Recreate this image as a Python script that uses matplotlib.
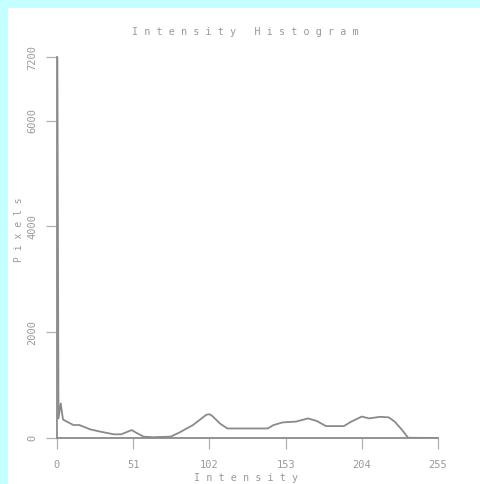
import matplotlib
matplotlib.use("Agg")
import matplotlib.pyplot as plt
from matplotlib.patches import Rectangle

# Histogram outline: intensity level -> pixel count
intensity = [0, 1, 2.5, 4, 6.5, 11, 15, 22, 29, 38, 43, 50, 53, 58, 64, 76,
             82, 91, 100, 102, 104, 109, 114, 141, 145, 151, 160, 168, 174,
             180, 192, 197, 204, 209, 216, 222, 226, 231, 235, 255]
pixels = [9500, 370, 655, 350, 310, 245, 245, 165, 120, 70, 70, 150, 100, 25,
          15, 25, 105, 245, 440, 450, 415, 275, 180, 180, 245, 295, 310, 370,
          320, 225, 225, 310, 405, 370, 400, 390, 310, 150, 5, 0]

x_ticks = [0, 51, 102, 153, 204, 255]
y_ticks = [0, 2000, 4000, 6000, 7200]
title = "Intensity Histogram"
x_label = "Intensity"
y_label = "Pixels"

GREY = "#8a8a8a"
TEXT = "#9a9a9a"
FONT = "DejaVu Sans Mono"


def spaced(s):
    return " ".join(s)


W, H = 481, 484
fig = plt.figure(figsize=(W / 100, H / 100), dpi=100)
fig.patch.set_facecolor("#c6ffff")
panel = Rectangle((8 / W, 0), 1, 1 - 8 / H, transform=fig.transFigure,
                  facecolor="white", edgecolor="none", zorder=-10)
fig.add_artist(panel)

ax = fig.add_axes([57 / W, (H - 438) / H, 381 / W, 381 / H])
ax.set_zorder(5)
ax.patch.set_alpha(0)
ax.plot(intensity, pixels, color=GREY, lw=1.3, clip_on=True)
ax.set_xlim(0, 255)
ax.set_ylim(0, 7200)

for side in ("top", "right"):
    ax.spines[side].set_visible(False)
for side in ("left", "bottom"):
    ax.spines[side].set_color(GREY)
    ax.spines[side].set_linewidth(1.3)

ax.set_xticks(x_ticks)
ax.set_xticklabels([str(v) for v in x_ticks], family=FONT, fontsize=7.5, color=TEXT)
ax.set_yticks(y_ticks)
ax.set_yticklabels([str(v) for v in y_ticks], family=FONT, fontsize=7.5, color=TEXT,
                   rotation=90, va="center")
ax.tick_params(axis="both", direction="out", length=8, width=0.9, color="#b0b0b0")
ax.tick_params(axis="x", pad=8)
ax.tick_params(axis="y", pad=6)

fig.text(245 / W, 1 - 32 / H, spaced(title), family=FONT, fontsize=7.3, color=TEXT,
         ha="center", va="center", zorder=6)
fig.text(246 / W, 1 - 478 / H, spaced(x_label), family=FONT, fontsize=7.3, color=TEXT,
         ha="center", va="center", zorder=6)
fig.text(19 / W, 1 - 230 / H, spaced(y_label), family=FONT, fontsize=7, color=TEXT,
         ha="center", va="center", rotation=90, zorder=6)

fig.savefig("out.png", dpi=100, facecolor=fig.get_facecolor())
